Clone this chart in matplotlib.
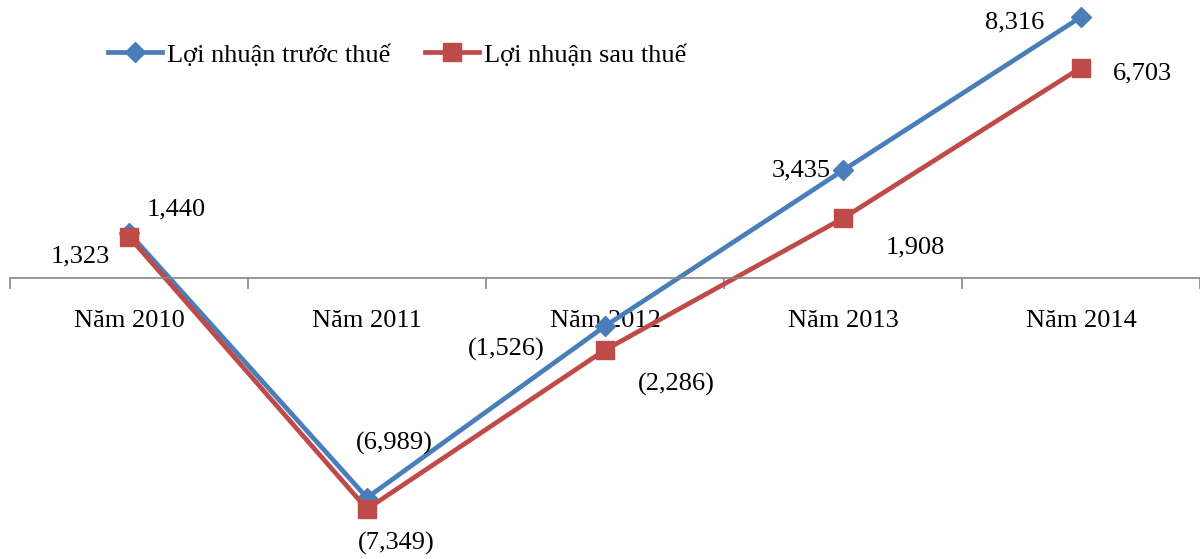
import matplotlib.pyplot as plt

# Dữ liệu lợi nhuận (triệu đồng)
nam = ['Năm 2010', 'Năm 2011', 'Năm 2012', 'Năm 2013', 'Năm 2014']
truoc_thue = [1440, -6989, -1526, 3435, 8316]
sau_thue = [1323, -7349, -2286, 1908, 6703]

# Vị trí nhãn số liệu (offset theo points)
offset_truoc = [(34, 17), (20, 39), (-71, -17), (-30, 0), (-48, -4)]
offset_sau = [(-35, -14), (21, -25), (51, -25), (52, -21), (44, -4)]

plt.rcParams['font.family'] = ['Liberation Serif', 'DejaVu Serif']

def nhan(v):
    s = f'{abs(v):,}'
    return f'({s})' if v < 0 else s

fig = plt.figure(figsize=(12, 5.59), dpi=100)
ax = fig.add_axes([10 / 1200, 0, 1190 / 1200, 1])

x = list(range(len(nam)))
ax.plot(x, truoc_thue, color='#4a7ebb', lw=3.4, marker='D', ms=10,
        label='Lợi nhuận trước thuế')
ax.plot(x, sau_thue, color='#be4b48', lw=3.4, marker='s', ms=13,
        label='Lợi nhuận sau thuế')

for i in x:
    ax.annotate(nhan(truoc_thue[i]), (i, truoc_thue[i]), xytext=offset_truoc[i],
                textcoords='offset points', ha='center', va='center', fontsize=19)
    ax.annotate(nhan(sau_thue[i]), (i, sau_thue[i]), xytext=offset_sau[i],
                textcoords='offset points', ha='center', va='center', fontsize=19)

ax.set_xlim(-0.5, 4.5)
ax.set_ylim(-8940, 8857)
ax.yaxis.set_visible(False)
for s in ['left', 'right', 'top']:
    ax.spines[s].set_visible(False)
ax.spines['bottom'].set_position(('data', 0))
ax.spines['bottom'].set_color('#868686')
ax.spines['bottom'].set_linewidth(1.2)

ax.set_xticks([i - 0.5 for i in range(6)])
ax.set_xticklabels([])
ax.set_xticks(x, minor=True)
ax.set_xticklabels(nam, minor=True, fontsize=19)
ax.tick_params(axis='x', which='major', length=8, width=1.2, color='#868686', direction='out')
ax.tick_params(axis='x', which='minor', length=0, pad=23)

ax.legend(loc='center left', bbox_to_anchor=(108 / 1200, 1 - 55 / 559),
          bbox_transform=fig.transFigure, ncol=2, frameon=False, fontsize=19,
          handlelength=2.05, columnspacing=1.3, handletextpad=0.2,
          borderpad=0, borderaxespad=0)

fig.savefig('out.png')
